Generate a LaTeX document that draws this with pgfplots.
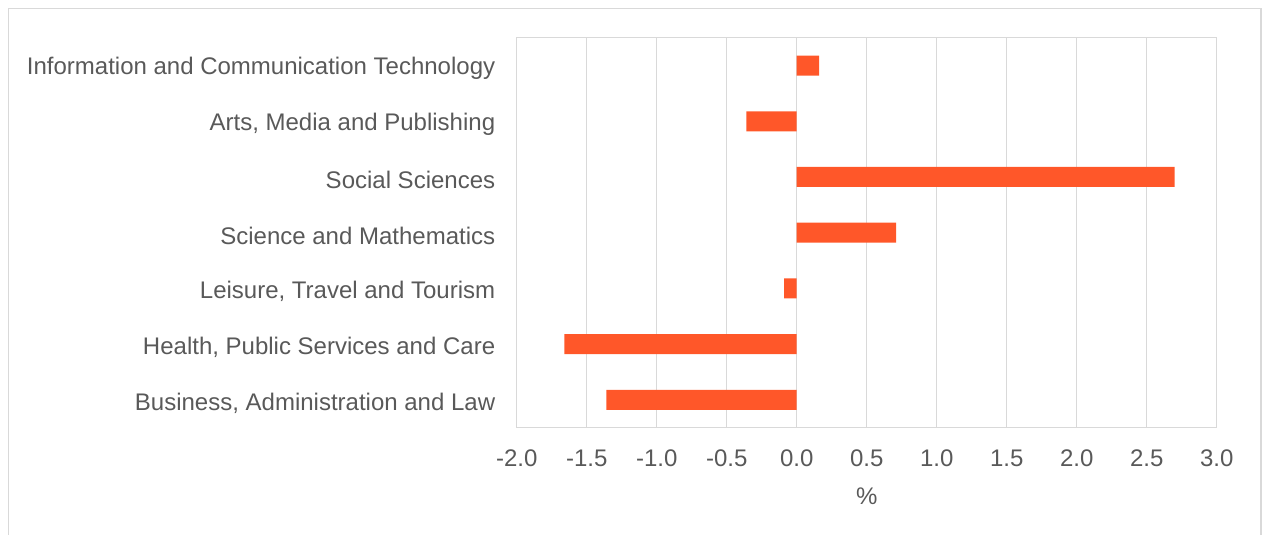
\documentclass[border=0pt]{standalone}
\usepackage{pgfplots}
\pgfplotsset{compat=1.18}
\usepackage{fontspec}
\setmainfont{Liberation Sans}

\definecolor{barorange}{HTML}{FF5729}
\definecolor{gridgray}{HTML}{D9D9D9}
\definecolor{textgray}{HTML}{595959}

\begin{document}
\begin{tikzpicture}[x=1pt,y=1pt]
\path[use as bounding box] (0,0) rectangle (1263,535);
\draw[gridgray, line width=1.3pt] (8.5,-10) -- (8.5,526.5) -- (1261,526.5) -- (1261,-10);
\begin{axis}[
    at={(516.7pt,107.3pt)}, anchor=south west,
    width=700pt, height=390pt, scale only axis,
    xbar, bar width=20pt,
    xmin=-2, xmax=3,
    ymin=-0.5, ymax=6.5,
    xtick={-2,-1.5,...,3},
    ytick={0,...,6},
    yticklabels={{Business, Administration and Law},
                 {Health, Public Services and Care},
                 {Leisure, Travel and Tourism},
                 Science and Mathematics,
                 Social Sciences,
                 {Arts, Media and Publishing},
                 Information and Communication Technology},
    /pgf/number format/fixed,
    /pgf/number format/fixed zerofill,
    /pgf/number format/precision=1,
    /pgf/number format/assume math mode=true,
    major tick length=0pt,
    xmajorgrids,
    grid style={gridgray, line width=1.5pt},
    axis line style={gridgray, line width=1.5pt},
    tick label style={font=\fontsize{24}{28}\selectfont, text=textgray},
    xticklabel style={yshift=-19pt},
    yticklabel style={xshift=-18pt, yshift=-3pt},
    xlabel={\%},
    xlabel style={font=\fontsize{24}{28}\selectfont, text=textgray, yshift=-14pt},
]
\addplot[fill=barorange, draw=none] coordinates {
(-1.36,0) (-1.66,1) (-0.09,2) (0.71,3) (2.70,4) (-0.36,5) (0.16,6)
};
\end{axis}
\end{tikzpicture}
\end{document}
